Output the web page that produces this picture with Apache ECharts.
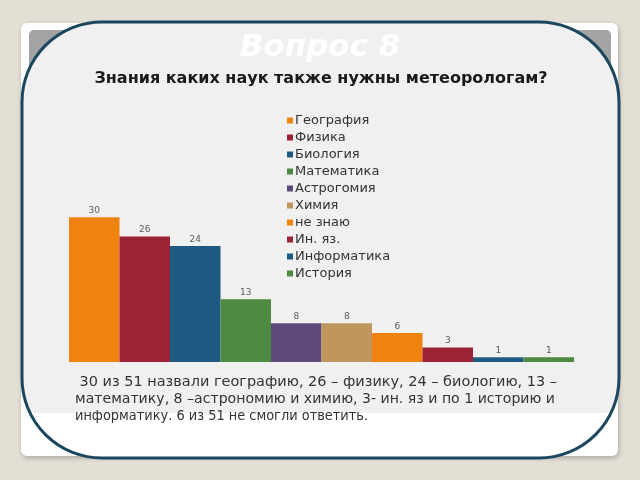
<!DOCTYPE html>
<html><head><meta charset="utf-8">
<script src="https://cdn.jsdelivr.net/npm/echarts@6/dist/echarts.min.js"></script>
<style>html,body{margin:0;padding:0;background:#e4dfd5;}#c{width:640px;height:480px;}</style>
</head><body><div id="c"></div>
<script>
const categories = ['География','Физика','Биология','Математика','Астрогомия','Химия','не знаю','Ин. яз.','Информатика','История'];
const values = [30,26,24,13,8,8,6,3,1,1];
const colors = ['#f0820f','#9b2335','#1d5a82','#4e8a41','#5f4a7c','#c0965e','#f0820f','#9b2335','#1d5a82','#4e8a41'];
const slideTitle = 'Вопрос 8';
const chartTitle = 'Знания каких наук также нужны метеорологам?';
const noteLines = [
  ' 30 из 51 назвали географию, 26 – физику, 24 – биологию, 13 –',
  'математику, 8 –астрономию и химию, 3- ин. яз и по 1 историю и',
  'информатику. 6 из 51 не смогли ответить.'
];
const FONT = 'DejaVu Sans';
const noteWidths = [482, 480, 293];

const chart = echarts.init(document.getElementById('c'), null, {renderer:'canvas'});
const series = categories.map((name,i)=>({
  name: name,
  type: 'bar',
  data: [values[i]],
  barGap: '0%',
  barCategoryGap: '0%',
  itemStyle: {color: colors[i]},
  label: {show:true, position:'top', distance:2, fontSize:9, color:'#5a5a5a', fontFamily:FONT},
  z: 20
}));

const ctx = document.createElement('canvas').getContext('2d');
const noteFont = '14px "'+FONT+'"';
ctx.font = noteFont;

// white lower part inside the rounded frame (below the grey panel)
const R = 80, fx0 = 22, fx1 = 619, fy1 = 458, cutY = 413;
const cy = fy1 - R, cxl = fx0 + R, cxr = fx1 - R;
const bottomPts = [];
const a0 = Math.asin((cutY - cy) / R);
for (let k = 0; k <= 24; k++) { const a = a0 + (Math.PI/2 - a0) * k / 24; bottomPts.push([cxr + R*Math.cos(a), cy + R*Math.sin(a)]); }
for (let k = 0; k <= 24; k++) { const a = Math.PI/2 + (Math.PI/2 - a0) * k / 24; bottomPts.push([cxl + R*Math.cos(a), cy + R*Math.sin(a)]); }

const children = [
  {type:'rect', z2:1, shape:{x:21,y:23,width:597,height:433,r:6},
   style:{fill:'#ffffff', shadowBlur:5, shadowColor:'rgba(0,0,0,0.25)', shadowOffsetX:1, shadowOffsetY:2}},
  {type:'rect', z2:2, shape:{x:29,y:30,width:582,height:383,r:5},
   style:{fill:'#efefef'}},
  {type:'rect', z2:3, shape:{x:29,y:30,width:582,height:60,r:[5,5,0,0]},
   style:{fill:'#a3a3a3'}},
  {type:'rect', z2:4, shape:{x:fx0,y:22,width:fx1-fx0,height:fy1-22,r:R},
   style:{fill:'#f0f0f0'}},
  {type:'polygon', z2:5, shape:{points:bottomPts},
   style:{fill:'#ffffff'}},
  {type:'rect', z2:6, shape:{x:fx0,y:22,width:fx1-fx0,height:fy1-22,r:R},
   style:{fill:'none', stroke:'#1a4660', lineWidth:3}},
  {type:'text', z2:7, x:320, y:32,
   style:{text:slideTitle, fill:'rgba(255,255,255,0.95)', font:'italic bold 31px "'+FONT+'"', align:'center'}},
  {type:'text', z2:7, x:321, y:71,
   style:{text:chartTitle, fill:'#1a1a1a', font:'bold 16px "'+FONT+'"', align:'center'}}
];
noteLines.forEach((t,i)=>{
  const w = ctx.measureText(t).width;
  children.push({type:'text', z2:7, x:75, y:375+i*17, scaleX: noteWidths[i]/w, originX:0,
    style:{text:t, fill:'#333333', font:noteFont}});
});

chart.setOption({
  animation:false,
  grid:{left:69, right:66, top:193, bottom:118},
  legend:{
    orient:'vertical', left:282, top:109, itemWidth:6, itemHeight:6, itemGap:4,
    icon:'rect', data:categories,
    textStyle:{fontSize:13, color:'#333333', fontFamily:FONT, padding:[0,0,0,-3]}
  },
  xAxis:{type:'category', data:[''], axisTick:{show:false}, axisLabel:{show:false},
    axisLine:{lineStyle:{color:'#d4d4d4'}}},
  yAxis:{type:'value', min:0, max:35, show:false, splitLine:{show:false}},
  graphic: [{type:'group', z:-1, silent:true, children: children}],
  series: series
});
</script></body></html>
